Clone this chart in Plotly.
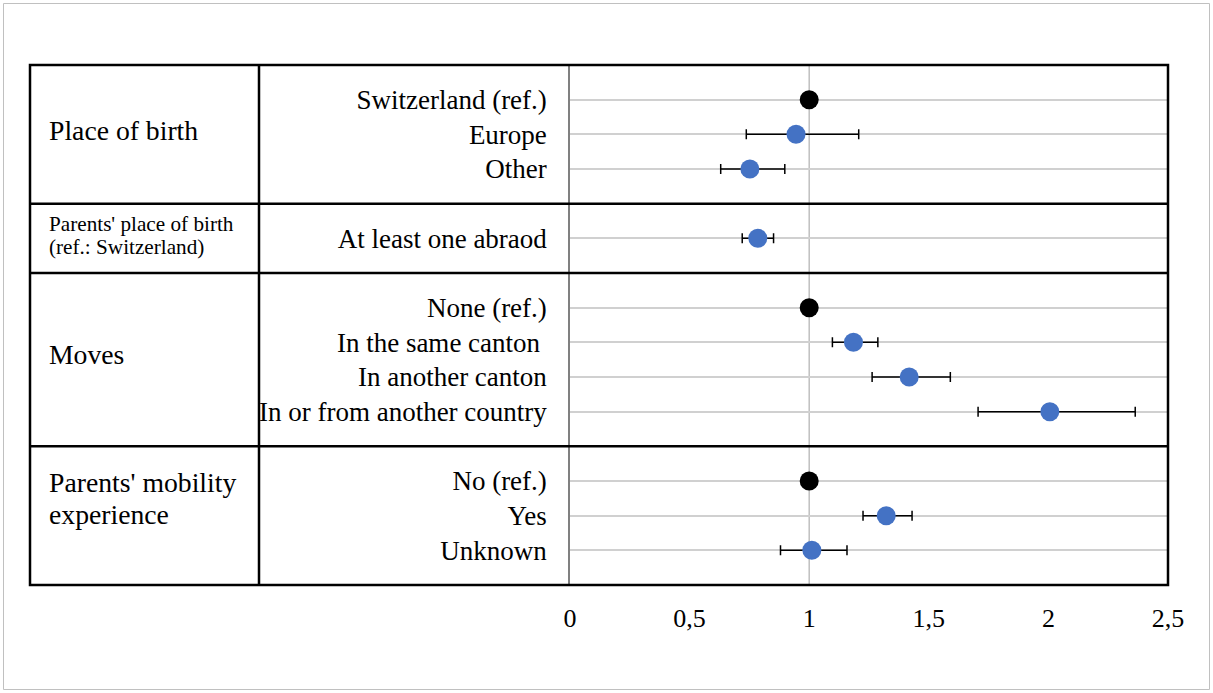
import plotly.graph_objects as go

# ---- data ----
categories = ["Switzerland (ref.)", "Europe", "Other",
              "At least one abraod",
              "None (ref.)", "In the same canton\u00a0", "In another canton", "In or from another country",
              "No (ref.)", "Yes", "Unknown"]
rows = [1, 2, 3, 5, 7, 8, 9, 10, 12, 13, 14]
odds = [1.0, 0.945, 0.752, 0.785, 1.0, 1.185, 1.418, 2.006, 1.0, 1.322, 1.011]
ci_low = [1.0, 0.737, 0.630, 0.720, 1.0, 1.097, 1.263, 1.706, 1.0, 1.225, 0.880]
ci_high = [1.0, 1.207, 0.898, 0.851, 1.0, 1.287, 1.590, 2.363, 1.0, 1.430, 1.158]
is_ref = [True, False, False, False, True, False, False, False, True, False, False]

# group label lines, the row each line sits on, and font size
group_lines = ["Place of birth",
               "Parents' place of birth", "(ref.: Switzerland)",
               "Moves",
               "Parents' mobility", "experience"]
group_line_rows = [1.875, 4.59, 5.24, 8.35, 12.03, 12.97]
group_line_sizes = [27.7, 21.2, 21.2, 27.7, 27.7, 27.7]
group_dividers = [4, 6, 11]
x_ticks = [0, 0.5, 1, 1.5, 2, 2.5]

N_ROWS = 15
FONT = "Liberation Serif"
W, H = 1213, 693
L, R, T, B = 570, 45, 65, 108
PW, PH = W - L - R, H - T - B


def px_x(p):
    return (p - L) / PW


def px_y(p):
    return (H - B - p) / PH


def row_y(r):
    return 1 - r / N_ROWS


fig = go.Figure()

ref_x = [o for o, f in zip(odds, is_ref) if f]
ref_y = [r for r, f in zip(rows, is_ref) if f]
est_x = [o for o, f in zip(odds, is_ref) if not f]
est_y = [r for r, f in zip(rows, is_ref) if not f]
est_plus = [h - o for o, h, f in zip(odds, ci_high, is_ref) if not f]
est_minus = [o - l for o, l, f in zip(odds, ci_low, is_ref) if not f]

fig.add_trace(go.Scatter(
    x=est_x, y=est_y, mode="markers",
    marker=dict(color="#4472C4", size=19, line=dict(width=0)),
    error_x=dict(type="data", symmetric=False, array=est_plus, arrayminus=est_minus,
                 color="black", thickness=1.5, width=5),
    showlegend=False, hoverinfo="x+y"))
fig.add_trace(go.Scatter(
    x=ref_x, y=ref_y, mode="markers",
    marker=dict(color="black", size=19, line=dict(width=0)),
    showlegend=False))

shapes = []
# reference vertical line at 1
shapes.append(dict(type="line", xref="x", yref="paper", x0=1, x1=1, y0=0, y1=1,
                   line=dict(color="#bfbfbf", width=1.5), layer="below"))
# table box
box_left = px_x(30)
box_div = px_x(259)
lw = 2.5
shapes.append(dict(type="rect", xref="paper", yref="paper", x0=box_left, x1=1,
                   y0=row_y(N_ROWS), y1=row_y(0), line=dict(color="black", width=lw)))
shapes.append(dict(type="line", xref="paper", yref="paper", x0=box_div, x1=box_div,
                   y0=row_y(N_ROWS), y1=row_y(0), line=dict(color="black", width=lw)))
for d in group_dividers:
    shapes.append(dict(type="line", xref="paper", yref="paper", x0=box_left, x1=1,
                       y0=row_y(d), y1=row_y(d), line=dict(color="black", width=lw)))
# outer frame
shapes.append(dict(type="rect", xref="paper", yref="paper", x0=px_x(3.5), x1=px_x(1209.5),
                   y0=px_y(689.5), y1=px_y(3.5), line=dict(color="#c0c0c0", width=1)))

annotations = []
for txt, r, fs in zip(group_lines, group_line_rows, group_line_sizes):
    annotations.append(dict(text=txt, xref="paper", yref="y", x=px_x(47), y=r,
                            xanchor="left", yanchor="middle", align="left", showarrow=False,
                            font=dict(family=FONT, size=fs, color="black")))

fig.update_layout(
    width=W, height=H,
    margin=dict(l=L, r=R, t=T, b=B, pad=0),
    paper_bgcolor="white", plot_bgcolor="white",
    separators=", ",
    shapes=shapes, annotations=annotations,
    font=dict(family=FONT, size=26, color="black"),
    xaxis=dict(range=[0, 2.5], tickvals=x_ticks, showgrid=False, zeroline=False,
               showline=False, ticks="", ticklabelstandoff=15,
               tickfont=dict(family=FONT, size=26, color="black")),
    yaxis=dict(range=[N_ROWS, 0], tickvals=rows, ticktext=categories,
               showgrid=True, gridcolor="#d0d0d0", gridwidth=1.5, zeroline=False,
               showline=True, linecolor="#808080", linewidth=1.5, ticks="",
               ticklabelstandoff=16,
               tickfont=dict(family=FONT, size=27, color="black")),
)

fig.write_html("out.html")
